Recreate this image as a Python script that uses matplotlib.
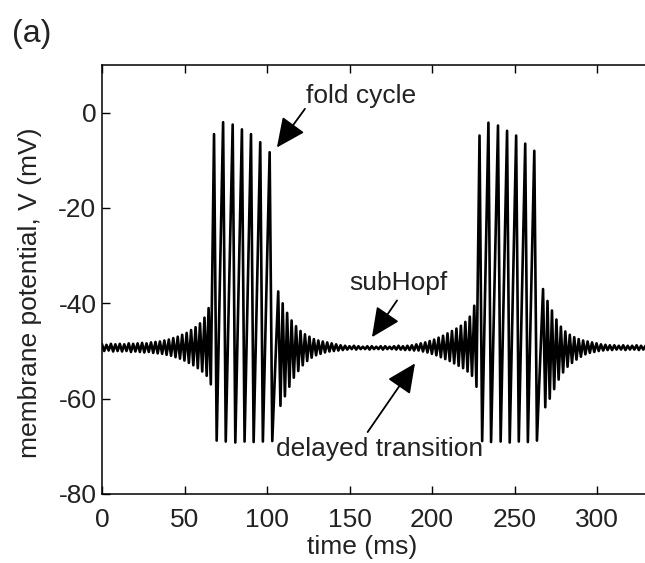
import matplotlib
matplotlib.use('Agg')
import matplotlib.pyplot as plt
import numpy as np

plt.rcParams['font.family'] = ['Liberation Sans', 'DejaVu Sans']
plt.rcParams['axes.unicode_minus'] = False

# quiet oscillation before burst 1 (cycle start, upper and lower extremes)
pre_t = [0.0, 2.7, 5.4, 8.1, 10.8, 13.5, 16.2, 18.9, 21.6, 24.3, 27.0, 29.7, 32.4,
         35.1, 37.8, 40.5, 43.2, 45.9, 48.6, 51.3, 54.0, 56.7, 59.4, 62.1, 64.6]
pre_hi = [-48.6, -48.7, -48.5, -48.6, -48.5, -48.6, -48.4, -48.5, -48.4, -48.3, -48.4, -48.2, -48.1,
          -48.0, -47.8, -47.6, -47.3, -47.0, -46.6, -46.2, -45.6, -45.0, -44.2, -43.0, -41.0]
pre_lo = [-50.0, -49.9, -50.1, -50.0, -50.1, -50.0, -50.2, -50.1, -50.2, -50.3, -50.2, -50.4, -50.5,
          -50.6, -50.8, -51.0, -51.3, -51.6, -52.0, -52.5, -53.0, -53.6, -54.3, -55.2, -57.0]

# burst 1 spikes
b1_t = [67.9, 73.4, 79.2, 84.8, 90.3, 95.9, 101.6]
b1_peak = [-4.5, -2.0, -2.5, -3.5, -4.5, -6.2, -8.3]
b1_trough = [-68.8, -69.0, -69.2, -69.0, -69.1, -69.0, -68.9]

# oscillation between the bursts (decay, quiet, delayed growth)
mid_t = [106.8, 109.5, 112.2, 114.9, 117.6, 120.3, 123.0, 125.7, 128.4, 131.1, 133.8, 136.5,
         139.2, 141.9, 144.6, 147.3, 150.0, 152.7, 155.4, 158.1, 160.8, 163.5, 166.2, 168.9,
         171.6, 174.3, 177.0, 179.7, 182.4, 185.1, 187.8, 190.5, 193.2, 195.9, 198.6, 201.3,
         204.0, 206.7, 209.4, 212.1, 214.8, 217.5, 220.2, 222.9, 225.6]
mid_hi = [-37.5, -40.0, -42.0, -43.6, -44.8, -45.8, -46.5, -47.0, -47.5, -47.8, -48.0, -48.2,
          -48.4, -48.6, -48.8, -48.9, -49.0, -48.9, -49.0, -49.1, -49.0, -49.0, -49.1, -49.0,
          -49.0, -49.1, -49.0, -48.9, -49.0, -48.9, -48.8, -48.6, -48.4, -48.2, -47.9, -47.6,
          -47.2, -46.8, -46.3, -45.8, -45.3, -44.7, -43.9, -42.8, -40.5]
mid_lo = [-61.5, -59.5, -57.5, -55.6, -54.2, -53.0, -52.1, -51.4, -50.9, -50.6, -50.3, -50.1,
          -50.0, -49.9, -49.8, -49.7, -49.6, -49.7, -49.6, -49.6, -49.7, -49.6, -49.6, -49.7,
          -49.6, -49.6, -49.7, -49.7, -49.8, -49.8, -49.9, -49.9, -50.1, -50.3, -50.6, -50.9,
          -51.3, -51.7, -52.1, -52.6, -53.1, -53.6, -54.3, -55.2, -57.5]

# burst 2 spikes
b2_t = [228.8, 234.2, 240.0, 245.5, 251.0, 256.5, 262.0]
b2_peak = [-4.8, -2.1, -2.7, -3.8, -4.8, -6.5, -8.0]
b2_trough = [-68.9, -69.1, -69.0, -69.2, -69.0, -69.1, -68.8]

# decay after burst 2
post_t = [267.3, 270.0, 272.7, 275.4, 278.1, 280.8, 283.5, 286.2, 288.9, 291.6, 294.3, 297.0,
          299.7, 302.4, 305.1, 307.8, 310.5, 313.2, 315.9, 318.6, 321.3, 324.0, 326.7, 329.4, 332.1]
post_hi = [-37.0, -39.5, -41.5, -43.4, -44.9, -45.9, -46.6, -47.1, -47.5, -47.8, -48.0, -48.2,
           -48.4, -48.6, -48.7, -48.8, -48.8, -48.9, -48.8, -48.9, -48.9, -48.8, -48.9, -48.9, -48.9]
post_lo = [-61.8, -60.0, -58.0, -56.0, -54.5, -53.3, -52.5, -51.8, -51.2, -50.7, -50.4, -50.2,
           -50.0, -49.9, -49.8, -49.8, -49.7, -49.7, -49.8, -49.7, -49.7, -49.8, -49.7, -49.7, -49.7]

x_ticks = [0, 50, 100, 150, 200, 250, 300]
y_ticks = [-80, -60, -40, -20, 0]


def zigzag(t, hi, lo, half):
    ts, vs = [], []
    for a, b, c in zip(t, hi, lo):
        ts += [a, a + half]
        vs += [b, c]
    return ts, vs


parts = [zigzag(pre_t, pre_hi, pre_lo, 1.35),
         zigzag(b1_t, b1_peak, b1_trough, 1.6),
         zigzag(mid_t, mid_hi, mid_lo, 1.35),
         zigzag(b2_t, b2_peak, b2_trough, 1.6),
         zigzag(post_t, post_hi, post_lo, 1.35)]
time = np.concatenate([p[0] for p in parts])
volt = np.concatenate([p[1] for p in parts])

fig = plt.figure(figsize=(6.45, 5.63), dpi=100)
ax = fig.add_axes([102 / 645, 69 / 563, 548 / 645, 429 / 563])
ax.plot(time, volt, color='k', lw=1.9)

ax.set_xlim(0, 548 / 1.65)
ax.set_ylim(-80, 10)
ax.set_xticks(x_ticks)
ax.set_yticks(y_ticks)
ax.tick_params(direction='in', length=6, width=1, top=True, right=False,
               labelsize=19, colors='k', labelcolor='#222222')
ax.tick_params(axis='x', pad=10)
ax.tick_params(axis='y', pad=4)
for s in ax.spines.values():
    s.set_linewidth(1.1)

ax.set_xlabel('time (ms)', fontsize=19, color='#222222')
ax.set_ylabel('membrane potential, V (mV)', fontsize=19, color='#222222')
ax.xaxis.set_label_coords(0.474, -0.095)
ax.yaxis.set_label_coords(-0.109, 0.47)

arrow = dict(arrowstyle='-|>,head_length=0.9,head_width=0.42', lw=1.3, color='k',
             mutation_scale=20, shrinkA=0, shrinkB=0)
ax.annotate('', xy=(106, -7.3), xytext=(123, 0.8), arrowprops=arrow)
ax.annotate('', xy=(163.6, -47.1), xytext=(178.8, -39.4), arrowprops=arrow)
ax.annotate('', xy=(189.7, -52.6), xytext=(161, -67.0), arrowprops=arrow)

ax.text(157, 3.6, 'fold cycle', fontsize=19, color='#222222', ha='center', va='center')
ax.text(179.5, -35.8, 'subHopf', fontsize=19, color='#222222', ha='center', va='center')
ax.text(168.5, -70.6, 'delayed transition', fontsize=19, color='#222222', ha='center', va='center')

fig.text(12 / 645, 1 - 34 / 563, '(a)', fontsize=23, color='#222222', ha='left', va='center')

fig.savefig('out.png', dpi=100)
